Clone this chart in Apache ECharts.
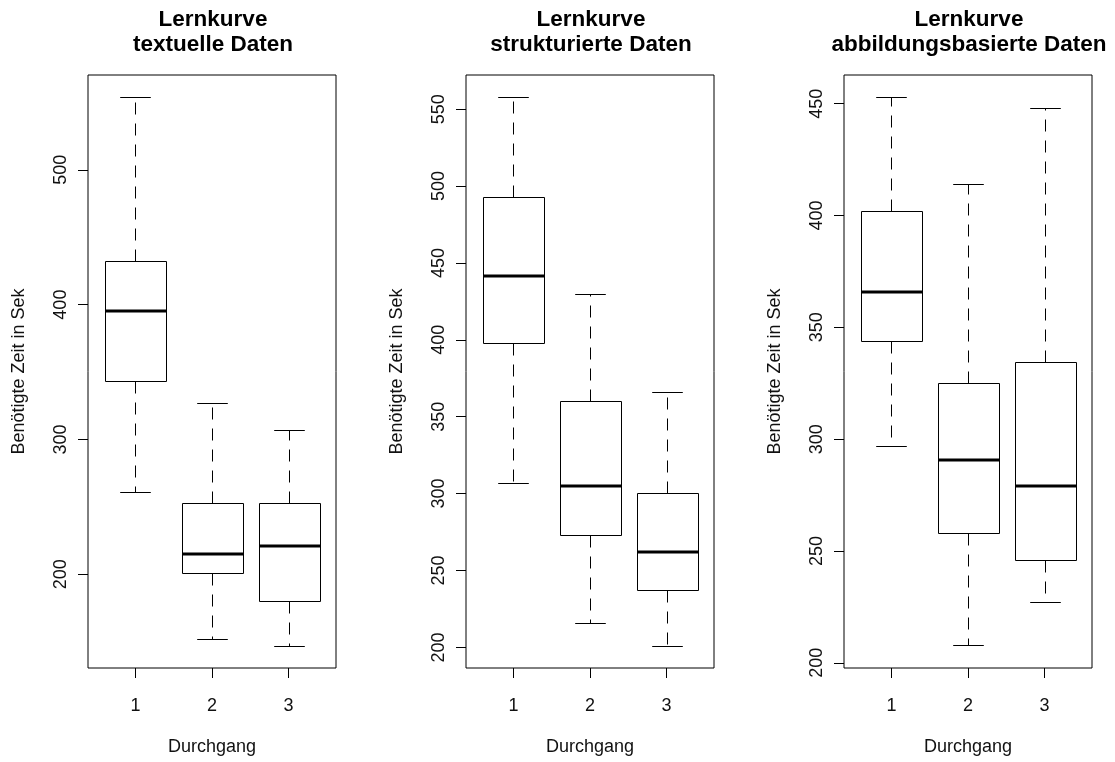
<!DOCTYPE html>
<html>
<head>
<meta charset="utf-8">
<script src="https://cdn.jsdelivr.net/npm/echarts@6/dist/echarts.min.js"></script>
<style>
html, body { margin: 0; padding: 0; background: #fff; }
#chart { width: 1115px; height: 762px; }
</style>
</head>
<body>
<div id="chart"></div>
<script>
// Durchgang (run) categories
const durchgang = [1, 2, 3];

// Panel titles
const titles = [
  'Lernkurve\ntextuelle Daten',
  'Lernkurve\nstrukturierte Daten',
  'Lernkurve\nabbildungsbasierte Daten'
];

// Five-number summaries per Durchgang: [min, Q1, median, Q3, max]
const textuelleStats = [
  [261, 343.5, 395, 432.5, 554],
  [152, 201, 215, 253, 327],
  [147, 180, 221, 253, 307]
];
const strukturierteStats = [
  [307, 398, 441.5, 493, 558],
  [216, 273, 305, 360, 430],
  [201, 237, 262, 300.5, 366]
];
const abbildungStats = [
  [297, 344, 366, 402, 453],
  [208, 258, 290.5, 325, 414],
  [227, 246, 279, 334.5, 448]
];

// Y tick labels per panel
const ticksTextuelle = [200, 300, 400, 500];
const ticksStrukturierte = [200, 250, 300, 350, 400, 450, 500, 550];
const ticksAbbildung = [200, 250, 300, 350, 400, 450];

// Y axis limits per panel
const yLimTextuelle = [130.5, 570.3];
const yLimStrukturierte = [186.6, 572.2];
const yLimAbbildung = [197.7, 462.8];

const xLim = [0.38, 3.62];

const allStats = [textuelleStats, strukturierteStats, abbildungStats];
const allTicks = [ticksTextuelle, ticksStrukturierte, ticksAbbildung];
const allYLim = [yLimTextuelle, yLimStrukturierte, yLimAbbildung];

const FONT = '"Liberation Sans", Arial, Helvetica, sans-serif';
const gridLefts = [88, 466, 844];
const gridWidth = 248;
const gridTop = 75;
const gridHeight = 593;

function renderBox(params, api) {
  const x = api.value(0);
  const pMin = api.coord([x, api.value(1)]);
  const pQ1 = api.coord([x, api.value(2)]);
  const pMed = api.coord([x, api.value(3)]);
  const pQ3 = api.coord([x, api.value(4)]);
  const pMax = api.coord([x, api.value(5)]);
  const w = api.size([0.8, 0])[0];
  const capW = w / 2;
  const cx = Math.round(pMed[0]) + 0.5;
  const r = v => Math.round(v) + 0.5;
  const dash = { stroke: '#000', lineWidth: 1, lineDash: [12, 9] };
  const solid = { stroke: '#000', lineWidth: 1 };
  return {
    type: 'group',
    children: [
      { type: 'line', shape: { x1: cx, y1: r(pQ3[1]), x2: cx, y2: r(pMax[1]) }, style: dash },
      { type: 'line', shape: { x1: cx, y1: r(pQ1[1]), x2: cx, y2: r(pMin[1]) }, style: dash },
      { type: 'line', shape: { x1: cx - capW / 2, y1: r(pMax[1]), x2: cx + capW / 2, y2: r(pMax[1]) }, style: solid },
      { type: 'line', shape: { x1: cx - capW / 2, y1: r(pMin[1]), x2: cx + capW / 2, y2: r(pMin[1]) }, style: solid },
      { type: 'rect', shape: { x: Math.round(cx - w / 2) + 0.5, y: r(pQ3[1]), width: Math.round(w), height: r(pQ1[1]) - r(pQ3[1]) }, style: { fill: '#fff', stroke: '#000', lineWidth: 1 } },
      { type: 'line', shape: { x1: Math.round(cx - w / 2) + 0.5, y1: Math.round(pMed[1]), x2: Math.round(cx - w / 2) + 0.5 + Math.round(w), y2: Math.round(pMed[1]) }, style: { stroke: '#000', lineWidth: 3 } }
    ]
  };
}

const option = {
  backgroundColor: '#fff',
  animation: false,
  title: titles.map((t, i) => ({
    text: t,
    left: gridLefts[i] + gridWidth / 2 - 4,
    top: 2,
    textAlign: 'center',
    textStyle: { fontFamily: FONT, fontSize: 22.5, fontWeight: 'bold', color: '#000', lineHeight: 25 }
  })),
  grid: gridLefts.map(l => ({
    left: l, top: gridTop, width: gridWidth, height: gridHeight,
    show: true, borderColor: '#000', borderWidth: 1, backgroundColor: 'transparent'
  })),
  xAxis: gridLefts.map((l, i) => ({
    type: 'value', gridIndex: i, min: xLim[0], max: xLim[1],
    name: 'Durchgang', nameLocation: 'middle', nameGap: 70,
    nameTextStyle: { fontFamily: FONT, fontSize: 18, color: '#111' },
    axisLine: { show: false },
    splitLine: { show: false },
    axisTick: { show: true, length: 10, inside: false, customValues: durchgang, lineStyle: { color: '#000' } },
    axisLabel: { customValues: durchgang, margin: 29, fontFamily: FONT, fontSize: 18, color: '#111' }
  })),
  yAxis: gridLefts.map((l, i) => ({
    type: 'value', gridIndex: i, min: allYLim[i][0], max: allYLim[i][1],
    name: 'Benötigte Zeit in Sek', nameLocation: 'middle', nameRotate: 90, nameGap: 60,
    nameTextStyle: { fontFamily: FONT, fontSize: 18, color: '#111' },
    axisLine: { show: false },
    splitLine: { show: false },
    axisTick: { show: true, length: 10, inside: false, customValues: allTicks[i], lineStyle: { color: '#000' } },
    axisLabel: { customValues: allTicks[i], rotate: 90, margin: 18, fontFamily: FONT, fontSize: 18, color: '#111' }
  })),
  series: allStats.map((stats, i) => ({
    type: 'custom',
    xAxisIndex: i, yAxisIndex: i,
    renderItem: renderBox,
    clip: false,
    encode: { x: 0, y: [1, 2, 3, 4, 5] },
    data: durchgang.map((d, k) => [d].concat(stats[k]))
  }))
};

const chart = echarts.init(document.getElementById('chart'), null, { renderer: 'canvas' });
chart.setOption(option);
</script>
</body>
</html>
